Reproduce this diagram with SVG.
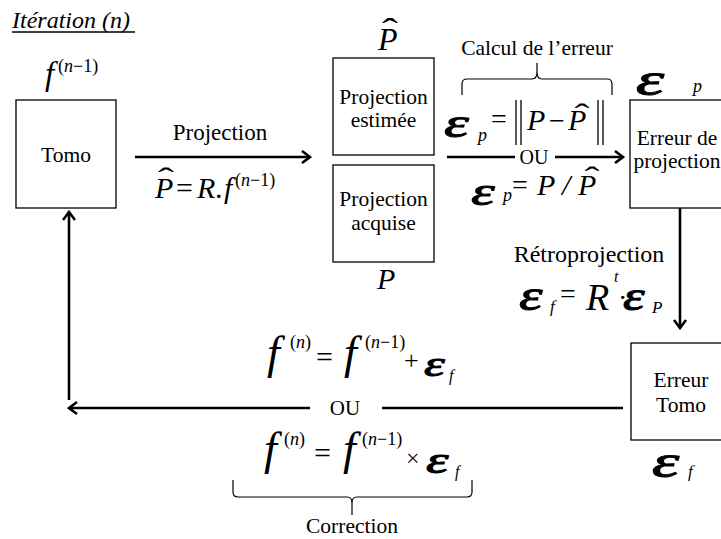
<svg xmlns="http://www.w3.org/2000/svg" width="721" height="539" viewBox="0 0 721 539">
<defs>
<marker id="ah" markerWidth="12" markerHeight="14" refX="10" refY="7" orient="auto" markerUnits="userSpaceOnUse">
<path d="M2,1 L10,7 L2,13" fill="none" stroke="#000" stroke-width="2.6"/>
</marker>
</defs>
<rect x="0" y="0" width="721" height="539" fill="#fff"/>

<g id="tomo">
<rect x="16" y="100" width="100" height="108" fill="#fff" stroke="#000" stroke-width="1.3"/>
<text x="66" y="162" style="font-family:'Liberation Serif'" font-family="Liberation Serif" font-size="21.5" text-anchor="middle">Tomo</text>
<text x="45" y="85" style="font-family:'Liberation Serif'" font-family="Liberation Serif" font-style="italic" font-size="33">f</text>
<text x="58" y="72" style="font-family:'Liberation Serif'" font-family="Liberation Serif" font-size="18">(<tspan font-style="italic">n</tspan>−1)</text>
</g>

<g id="proj-estimee">
<rect x="333" y="58" width="101" height="97" fill="#fff" stroke="#000" stroke-width="1.3"/>
<text x="383.5" y="104" style="font-family:'Liberation Serif'" font-family="Liberation Serif" font-size="21.5" text-anchor="middle">Projection</text>
<text x="383.5" y="127" style="font-family:'Liberation Serif'" font-family="Liberation Serif" font-size="21.5" text-anchor="middle">estimée</text>
<text x="378" y="50" style="font-family:'Liberation Serif'" font-family="Liberation Serif" font-style="italic" font-size="32">P</text>
<text style="font-family:'Liberation Serif'" font-family="Liberation Serif" font-size="32" text-anchor="middle" transform="translate(390,40) scale(1.5,1)">ˆ</text>
</g>

<g id="proj-acquise">
<rect x="333" y="165" width="101" height="97" fill="#fff" stroke="#000" stroke-width="1.3"/>
<text x="383.5" y="206" style="font-family:'Liberation Serif'" font-family="Liberation Serif" font-size="21.5" text-anchor="middle">Projection</text>
<text x="383.5" y="230" style="font-family:'Liberation Serif'" font-family="Liberation Serif" font-size="21.5" text-anchor="middle">acquise</text>
<text x="377" y="289" style="font-family:'Liberation Serif'" font-family="Liberation Serif" font-style="italic" font-size="30">P</text>
</g>

<g id="connectors">
<line x1="135" y1="157" x2="310" y2="157" stroke="#000" stroke-width="2.6" marker-end="url(#ah)"/>
<line x1="447" y1="157" x2="515" y2="157" stroke="#000" stroke-width="2.6"/>
<line x1="555" y1="157" x2="623" y2="157" stroke="#000" stroke-width="2.6" marker-end="url(#ah)"/>
<line x1="680" y1="208" x2="680" y2="328" stroke="#000" stroke-width="2.6" marker-end="url(#ah)"/>
<line x1="623" y1="408" x2="382" y2="408" stroke="#000" stroke-width="2.6"/>
<line x1="310" y1="408" x2="69" y2="408" stroke="#000" stroke-width="2.6" marker-end="url(#ah)"/>
<line x1="69" y1="400" x2="69" y2="212" stroke="#000" stroke-width="2.6" marker-end="url(#ah)"/>
<text x="534" y="164" style="font-family:'Liberation Serif'" font-family="Liberation Serif" font-size="20" text-anchor="middle">OU</text>
<text x="345" y="415" style="font-family:'Liberation Serif'" font-family="Liberation Serif" font-size="21" text-anchor="middle">OU</text>
</g>

<g id="projection-label">
<text x="220" y="140" style="font-family:'Liberation Serif'" font-family="Liberation Serif" font-size="23" text-anchor="middle">Projection</text>
<text x="155" y="198" style="font-family:'Liberation Serif'" font-family="Liberation Serif" font-style="italic" font-size="30">P</text>
<text style="font-family:'Liberation Serif'" font-family="Liberation Serif" font-size="30" text-anchor="middle" transform="translate(166,188) scale(1.6,1)">ˆ</text>
<text x="176" y="198" style="font-family:'Liberation Serif'" font-family="Liberation Serif" font-size="30">=</text>
<text x="197" y="198" style="font-family:'Liberation Serif'" font-family="Liberation Serif" font-style="italic" font-size="30">R</text>
<text x="215" y="198" style="font-family:'Liberation Serif'" font-family="Liberation Serif" font-size="30">.</text>
<text x="224" y="198" style="font-family:'Liberation Serif'" font-family="Liberation Serif" font-style="italic" font-size="30">f</text>
<text x="235" y="186" style="font-family:'Liberation Serif'" font-family="Liberation Serif" font-size="18">(<tspan font-style="italic">n</tspan>−1)</text>
</g>

<g id="calcul">
<text x="537" y="55" style="font-family:'Liberation Serif'" font-family="Liberation Serif" font-size="21.5" text-anchor="middle">Calcul de l’erreur</text>
<path d="M462,95 L462,84 Q462,79 467,79 L532,79 Q537,79 537,72 L537,63 M537,72 Q537,79 542,79 L607,79 Q612,79 612,84 L612,95" fill="none" stroke="#000" stroke-width="1.2"/>
<text style="font-family:'Liberation Serif'" font-family="Liberation Serif" font-style="italic" font-size="42" stroke="#000" stroke-width="1" transform="translate(444,137) scale(1.5,1)">ε</text>
<text x="478" y="141" style="font-family:'Liberation Serif'" font-family="Liberation Serif" font-style="italic" font-size="18">p</text>
<text x="491" y="128" style="font-family:'Liberation Serif'" font-family="Liberation Serif" font-size="28">=</text>
<line x1="516" y1="100" x2="516" y2="145" stroke="#000" stroke-width="1.3"/>
<line x1="521" y1="100" x2="521" y2="145" stroke="#000" stroke-width="1.3"/>
<text x="527" y="130" style="font-family:'Liberation Serif'" font-family="Liberation Serif" font-style="italic" font-size="30">P</text>
<text x="549" y="130" style="font-family:'Liberation Serif'" font-family="Liberation Serif" font-size="28">−</text>
<text x="568" y="130" style="font-family:'Liberation Serif'" font-family="Liberation Serif" font-style="italic" font-size="30">P</text>
<text style="font-family:'Liberation Serif'" font-family="Liberation Serif" font-size="30" text-anchor="middle" transform="translate(582,124) scale(1.5,1)">ˆ</text>
<line x1="598" y1="100" x2="598" y2="145" stroke="#000" stroke-width="1.3"/>
<line x1="603" y1="100" x2="603" y2="145" stroke="#000" stroke-width="1.3"/>
<text style="font-family:'Liberation Serif'" font-family="Liberation Serif" font-style="italic" font-size="40" stroke="#000" stroke-width="1" transform="translate(471,205) scale(1.5,1)">ε</text>
<text x="503" y="201" style="font-family:'Liberation Serif'" font-family="Liberation Serif" font-style="italic" font-size="18">p</text>
<text x="512" y="194" style="font-family:'Liberation Serif'" font-family="Liberation Serif" font-size="28">=</text>
<text x="537" y="195" style="font-family:'Liberation Serif'" font-family="Liberation Serif" font-style="italic" font-size="30">P</text>
<text x="562" y="195" style="font-family:'Liberation Serif'" font-family="Liberation Serif" font-style="italic" font-size="30">/</text>
<text x="578" y="195" style="font-family:'Liberation Serif'" font-family="Liberation Serif" font-style="italic" font-size="30">P</text>
<text style="font-family:'Liberation Serif'" font-family="Liberation Serif" font-size="30" text-anchor="middle" transform="translate(592,187) scale(1.5,1)">ˆ</text>
</g>

<g id="erreur-projection">
<rect x="630" y="100" width="100" height="108" fill="#fff" stroke="#000" stroke-width="1.3"/>
<text x="677" y="145" style="font-family:'Liberation Serif'" font-family="Liberation Serif" font-size="21.5" text-anchor="middle">Erreur de</text>
<text x="677" y="168" style="font-family:'Liberation Serif'" font-family="Liberation Serif" font-size="21.5" text-anchor="middle">projection</text>
<text style="font-family:'Liberation Serif'" font-family="Liberation Serif" font-style="italic" font-size="46" stroke="#000" stroke-width="1" transform="translate(636,95) scale(1.55,1)">ε</text>
<text x="693" y="92" style="font-family:'Liberation Serif'" font-family="Liberation Serif" font-style="italic" font-size="18">p</text>
</g>

<g id="retroprojection">
<text x="589" y="262" style="font-family:'Liberation Serif'" font-family="Liberation Serif" font-size="24" text-anchor="middle">Rétroprojection</text>
<text style="font-family:'Liberation Serif'" font-family="Liberation Serif" font-style="italic" font-size="44" stroke="#000" stroke-width="1" transform="translate(519,310) scale(1.35,1)">ε</text>
<text x="550" y="312" style="font-family:'Liberation Serif'" font-family="Liberation Serif" font-style="italic" font-size="17">f</text>
<text x="560" y="303" style="font-family:'Liberation Serif'" font-family="Liberation Serif" font-size="28">=</text>
<text x="586" y="310" style="font-family:'Liberation Serif'" font-family="Liberation Serif" font-style="italic" font-size="38">R</text>
<text x="614" y="282" style="font-family:'Liberation Serif'" font-family="Liberation Serif" font-style="italic" font-size="16">t</text>
<text x="618" y="307" style="font-family:'Liberation Serif'" font-family="Liberation Serif" font-size="28">·</text>
<text style="font-family:'Liberation Serif'" font-family="Liberation Serif" font-style="italic" font-size="42" stroke="#000" stroke-width="1" transform="translate(623,310) scale(1.3,1)">ε</text>
<text x="652" y="313" style="font-family:'Liberation Serif'" font-family="Liberation Serif" font-style="italic" font-size="17">P</text>
</g>

<g id="erreur-tomo">
<rect x="631" y="343" width="100" height="97" fill="#fff" stroke="#000" stroke-width="1.3"/>
<text x="681" y="387" style="font-family:'Liberation Serif'" font-family="Liberation Serif" font-size="21.5" text-anchor="middle">Erreur</text>
<text x="681" y="412" style="font-family:'Liberation Serif'" font-family="Liberation Serif" font-size="21.5" text-anchor="middle">Tomo</text>
<text style="font-family:'Liberation Serif'" font-family="Liberation Serif" font-style="italic" font-size="46" stroke="#000" stroke-width="1" transform="translate(652,477) scale(1.5,1)">ε</text>
<text x="688" y="477" style="font-family:'Liberation Serif'" font-family="Liberation Serif" font-style="italic" font-size="17">f</text>
</g>

<g id="correction">
<text x="267" y="368" style="font-family:'Liberation Serif'" font-family="Liberation Serif" font-style="italic" font-size="46">f</text>
<text x="290" y="348" style="font-family:'Liberation Serif'" font-family="Liberation Serif" font-size="18">(<tspan font-style="italic">n</tspan>)</text>
<text x="316" y="367" style="font-family:'Liberation Serif'" font-family="Liberation Serif" font-size="30">=</text>
<text x="344" y="368" style="font-family:'Liberation Serif'" font-family="Liberation Serif" font-style="italic" font-size="46">f</text>
<text x="365" y="348" style="font-family:'Liberation Serif'" font-family="Liberation Serif" font-size="18">(<tspan font-style="italic">n</tspan>−1)</text>
<text x="404" y="369" style="font-family:'Liberation Serif'" font-family="Liberation Serif" font-size="26">+</text>
<text style="font-family:'Liberation Serif'" font-family="Liberation Serif" font-style="italic" font-size="35" stroke="#000" stroke-width="1" transform="translate(424,376) scale(1.5,1)">ε</text>
<text x="449" y="381" style="font-family:'Liberation Serif'" font-family="Liberation Serif" font-style="italic" font-size="16">f</text>

<text x="264" y="464" style="font-family:'Liberation Serif'" font-family="Liberation Serif" font-style="italic" font-size="46">f</text>
<text x="284" y="445" style="font-family:'Liberation Serif'" font-family="Liberation Serif" font-size="18">(<tspan font-style="italic">n</tspan>)</text>
<text x="314" y="463" style="font-family:'Liberation Serif'" font-family="Liberation Serif" font-size="30">=</text>
<text x="343" y="464" style="font-family:'Liberation Serif'" font-family="Liberation Serif" font-style="italic" font-size="46">f</text>
<text x="362" y="445" style="font-family:'Liberation Serif'" font-family="Liberation Serif" font-size="18">(<tspan font-style="italic">n</tspan>−1)</text>
<text x="406" y="466" style="font-family:'Liberation Serif'" font-family="Liberation Serif" font-size="24">×</text>
<text style="font-family:'Liberation Serif'" font-family="Liberation Serif" font-style="italic" font-size="38" stroke="#000" stroke-width="1" transform="translate(426,473) scale(1.5,1)">ε</text>
<text x="455" y="477" style="font-family:'Liberation Serif'" font-family="Liberation Serif" font-style="italic" font-size="16">f</text>

<path d="M233,480 L233,492 Q233,497 238,497 L347,497 Q352,497 352,503 L352,515 M352,503 Q352,497 357,497 L467,497 Q472,497 472,492 L472,480" fill="none" stroke="#000" stroke-width="1.2"/>
<text x="352" y="533" style="font-family:'Liberation Serif'" font-family="Liberation Serif" font-size="21.5" text-anchor="middle">Correction</text>
</g>

<g id="title">
<text x="12" y="28" style="font-family:'Liberation Serif'" font-family="Liberation Serif" font-style="italic" font-size="24">Itération (n)</text>
<line x1="12" y1="32" x2="135" y2="32" stroke="#000" stroke-width="1.5"/>
</g>
</svg>
